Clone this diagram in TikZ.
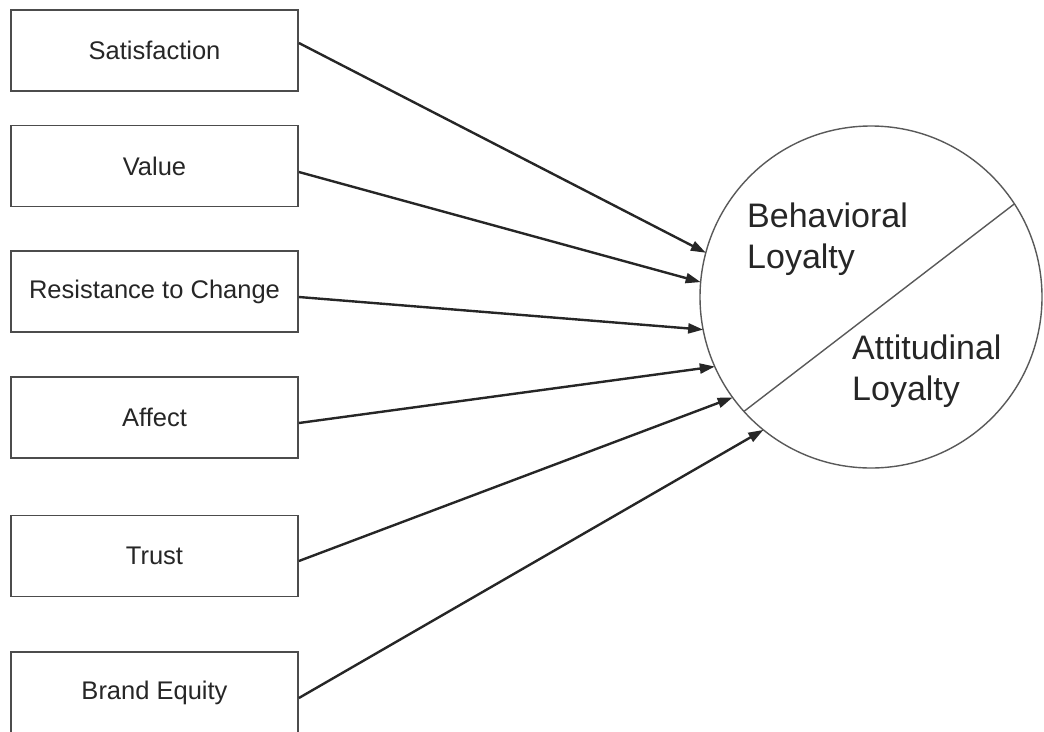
\documentclass[tikz,border=0pt]{standalone}
\usepackage{fontspec}
\setmainfont{Liberation Sans}
\usetikzlibrary{arrows.meta}

\begin{document}
\begin{tikzpicture}[x=1pt, y=1pt, node distance=126pt,
		factor/.style = {draw=black!70, line width=1.8pt, minimum width=287pt, minimum height=81pt, inner sep=0pt, text=black!85, font=\fontsize{25.5}{30}\selectfont},
		part/.style = {anchor=north west, align=left, inner sep=0pt, text=black!85, font=\fontsize{34}{41}\selectfont},
		link/.style = {-{Triangle[length=15pt,width=10pt]}, line width=2.4pt, black!85}]
		\useasboundingbox (0,0) rectangle (1044,-731);
		%Boxes on the left
		\node[factor] (1) at (154.5,-50.5) {Satisfaction};
		\node[factor] (2) [node distance={115.5pt},below of=1] {Value};
		\node[factor] (3) [node distance={125.5pt},below of=2] {Resistance to Change};
		\node[factor] (4) [below of=3] {Affect};
		\node[factor] (5) [node distance={138.5pt},below of=4] {Trust};
		\node[factor] (6) [node distance={136.5pt},below of=5] {Brand Equity};
		%Loyalty circle, split in two
		\node[draw=black!65, circle, line width=1.4pt, minimum size=342pt, inner sep=0pt, outer sep=0pt] (7) at (871,-297) {};
		\draw[black!65, line width=1.4pt] (7.222) -- (7.33);
		\node[part] (8) at (747,-203) {Behavioral\\Loyalty};
		\node[part] (9) at (852,-335) {Attitudinal\\Loyalty};
		
		%Edges into the circle
		\path [link] ([yshift=7.5pt]1.east) edge (7.165); 	%Satisfaction
		\path [link] ([yshift=-6pt]2.east) edge (7.175); 	%Value
		\path [link] ([yshift=-5.5pt]3.east) edge (7.191); 	%Resistance to Change
		\path [link] ([yshift=-5.5pt]4.east) edge (7.204); 	%Affect
		\path [link] ([yshift=-5pt]5.east) edge (7.216); 	%Trust
		\path [link] ([yshift=-5.5pt]6.east) edge (7.231); 	%Brand Equity
	\end{tikzpicture}
\end{document}
